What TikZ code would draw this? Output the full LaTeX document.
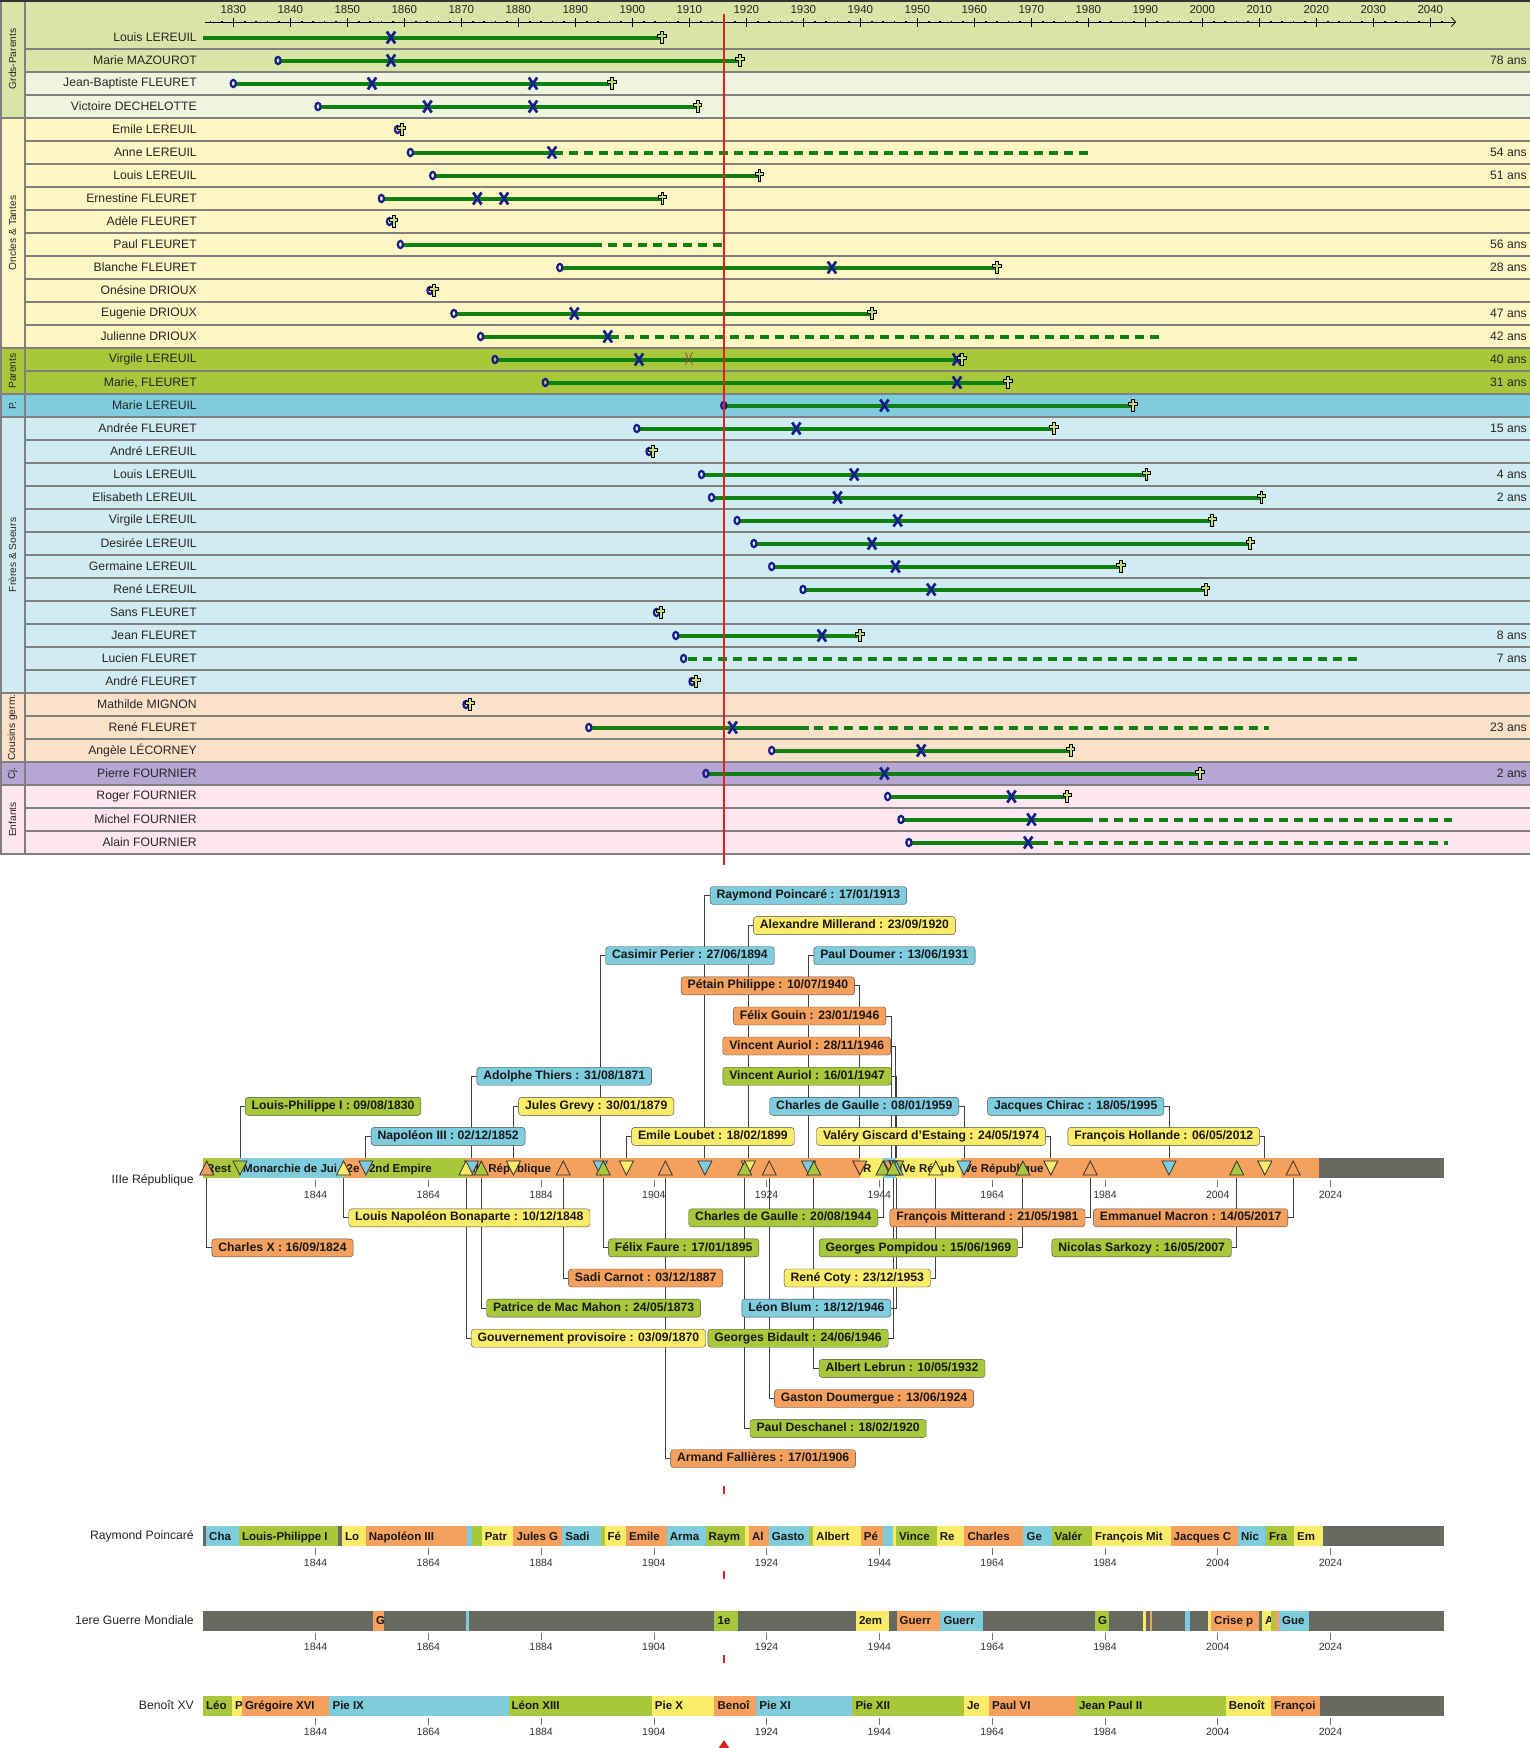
\documentclass[tikz,border=0pt]{standalone}
\usepackage{fontspec}
\setmainfont{Liberation Sans}
\usetikzlibrary{arrows.meta}
\definecolor{cb}{RGB}{126,204,222}
\definecolor{cg}{RGB}{168,199,58}
\definecolor{cy}{RGB}{250,235,105}
\definecolor{co}{RGB}{246,160,94}
\definecolor{cgr}{RGB}{103,106,96}
\definecolor{gpA}{RGB}{216,229,166}
\definecolor{gpB}{RGB}{239,244,223}
\definecolor{onc}{RGB}{255,246,196}
\definecolor{par}{RGB}{168,199,58}
\definecolor{ppc}{RGB}{126,204,222}
\definecolor{fsc}{RGB}{208,236,242}
\definecolor{cou}{RGB}{252,225,201}
\definecolor{cjc}{RGB}{182,166,211}
\definecolor{enf}{RGB}{255,230,240}
\definecolor{sepc}{RGB}{128,128,128}
\definecolor{lifeg}{RGB}{16,128,16}
\definecolor{navy}{RGB}{20,30,140}
\definecolor{redl}{RGB}{222,32,32}
\definecolor{crossc}{RGB}{200,220,120}
\definecolor{divc}{RGB}{160,70,70}
\pgfdeclarelayer{back}
\pgfdeclarelayer{lines}
\pgfsetlayers{back,lines,main}
\newcommand\mylife[3]{\draw[life] (#2,{37.5+23*#1}) -- (#3,{37.5+23*#1});}
\newcommand\mydash[3]{\draw[lifed] (#2,{37.5+23*#1}) -- (#3,{37.5+23*#1});}
\newcommand\myborn[2]{\draw[navy,line width=2.2pt] (#2,{37.5+23*#1}) ellipse [x radius=2.6, y radius=3.6];}
\newcommand\myx[2]{\draw[navy,line width=2.7pt] (#2,{37.5+23*#1}) ++(-4.2,-6) -- ++(8.4,12) (#2,{37.5+23*#1}) ++(4.2,-6) -- ++(-8.4,12);}
\newcommand\mycross[2]{\filldraw[fill=crossc,draw=black,line width=0.7pt] (#2,{37.5+23*#1}) ++(-1.4,-6) -- ++(2.8,0) -- ++(0,2.8) -- ++(2.8,0) -- ++(0,2.6) -- ++(-2.8,0) -- ++(0,6) -- ++(-2.8,0) -- ++(0,-6) -- ++(-2.8,0) -- ++(0,-2.6) -- ++(2.8,0) -- cycle;}
\newcommand\mybar[2]{%
  \fill[cgr] (203,#1) rectangle (1444,#1+20);
  \foreach \xa/\xb/\col/\txt in {#2} {
    \fill[\col] (\xa,#1) rectangle (\xb,#1+20);
    \begin{scope}
      \clip (\xa,#1) rectangle (\xb,#1+20);
      \node[seglab] at (\xa+3,#1+14.2) {\txt};
    \end{scope}
  }
  \foreach \Y in {1844,1864,...,2024} {
    \draw[tkc] ({315.6+5.638*(\Y-1844)},#1+22) -- ++(0,7);
    \node[tkl] at ({315.6+5.638*(\Y-1844)},#1+36.5) {\Y};
  }
}
\begin{document}
\begin{tikzpicture}[x=1pt,y=-1pt,
  nm/.style={anchor=east, font=\fontsize{12.2}{14}\selectfont, text=black!85, inner sep=0pt},
  grp/.style={rotate=90, font=\fontsize{10.2}{12}\selectfont, text=black!85, inner sep=0pt},
  ansl/.style={anchor=east, font=\fontsize{12.2}{14}\selectfont, text=black!85, inner sep=0pt},
  yr/.style={font=\fontsize{11.5}{13}\selectfont, text=black!85, inner sep=0pt},
  sepl/.style={draw=sepc, line width=1.8pt},
  life/.style={draw=lifeg, line width=4pt},
  lifed/.style={draw=lifeg, line width=4pt, dash pattern=on 9pt off 6pt},
  conn/.style={draw=black!75, line width=0.9pt},
  tri/.style={draw=black!80, line width=0.8pt, line join=miter},
  pbox/.style={draw=black!70, rounded corners=3pt, minimum height=18pt, inner xsep=6.5pt, inner ysep=0pt, text height=8.8pt, text depth=2.6pt, font=\bfseries\fontsize{12.2}{14}\selectfont, text=black!90},
  seglab/.style={anchor=base west, font=\bfseries\fontsize{11.5}{13}\selectfont, text=black!90, inner sep=0pt},
  tkc/.style={draw=black!55, line width=0.7pt},
  tkl/.style={font=\fontsize{10.5}{12}\selectfont, text=black!80, inner sep=0pt},
  lbl/.style={anchor=east, font=\fontsize{12.2}{14}\selectfont, text=black!85, inner sep=0pt}]
\useasboundingbox (0,0) rectangle (1530,1748);
\begin{pgfonlayer}{back}
\fill[white] (0,0) rectangle (1530,1748);
\end{pgfonlayer}
% ---------- family chart backgrounds
\fill[gpA] (0,0) rectangle (1530,72);
\fill[gpB] (25,72) rectangle (1530,118);
\fill[gpA] (0,72) rectangle (25,118);
\fill[onc] (0,118) rectangle (1530,348);
\fill[par] (0,348) rectangle (1530,394);
\fill[ppc] (0,394) rectangle (1530,417);
\fill[fsc] (0,417) rectangle (1530,693);
\fill[cou] (0,693) rectangle (1530,762);
\fill[cjc] (0,762) rectangle (1530,785);
\fill[enf] (0,785) rectangle (1530,854);
\foreach \j in {0,...,35} \draw[sepl] (25,{49+23*\j}) -- (1530,{49+23*\j});
\foreach \gy in {118,348,394,417,693,762,785,854} \draw[sepl] (0,\gy) -- (25,\gy);
\draw[sepl] (25,0) -- (25,854);
\draw[sepl] (0.9,0) -- (0.9,854);
\draw[black!80,line width=1.5pt] (0,0.75) -- (1530,0.75);
% group labels
\node[grp] (gA) at (12.5,59) {Grds-Parents};
\node[grp] (gB) at (12.5,233) {Oncles \& Tantes};
\node[grp] (gC) at (12.5,371) {Parents};
\node[grp] (gD) at (12.5,405.5) {P.};
\node[grp] (gE) at (12.5,555) {Frères \& Soeurs};
\node[grp] (gF) at (12.5,727.5) {Cousins germ.};
\node[grp] (gG) at (12.5,773.5) {Cj.};
\node[grp] (gH) at (12.5,819.5) {Enfants};
% names
\foreach \k/\nom in {0/Louis LEREUIL,1/Marie MAZOUROT,2/Jean-Baptiste FLEURET,3/Victoire DECHELOTTE,
  4/Emile LEREUIL,5/Anne LEREUIL,6/Louis LEREUIL,7/Ernestine FLEURET,8/Adèle FLEURET,9/Paul FLEURET,
  10/Blanche FLEURET,11/Onésine DRIOUX,12/Eugenie DRIOUX,13/Julienne DRIOUX,14/Virgile LEREUIL,
  15/{Marie, FLEURET},16/Marie LEREUIL,17/Andrée FLEURET,18/André LEREUIL,19/Louis LEREUIL,
  20/Elisabeth LEREUIL,21/Virgile LEREUIL,22/Desirée LEREUIL,23/Germaine LEREUIL,24/René LEREUIL,
  25/Sans FLEURET,26/Jean FLEURET,27/Lucien FLEURET,28/André FLEURET,29/Mathilde MIGNON,
  30/René FLEURET,31/Angèle LÉCORNEY,32/Pierre FOURNIER,33/Roger FOURNIER,34/Michel FOURNIER,
  35/Alain FOURNIER}
  \node[nm] (nm\k) at (197,{37.5+23*\k}) {\nom};
\foreach \k/\v in {1/78,5/54,6/51,9/56,10/28,12/47,13/42,14/40,15/31,17/15,19/4,20/2,26/8,27/7,30/23,32/2}
  \node[ansl] (ans\k) at (1527,{37.5+23*\k}) {\v{} ans};
% axis
\draw[black,line width=0.8pt,-{Straight Barb[length=4pt,width=9pt]}] (205,22) -- (1456,22);
\foreach \Y in {1826,1828,...,2042} \draw[line width=1.6pt] ({233.3+5.7*(\Y-1830)},20.6) -- ++(0,2.8);
\foreach \Y in {1830,1840,...,2040} {
  \draw[line width=1.3pt] ({233.3+5.7*(\Y-1830)},17.5) -- ++(0,9);
  \node[yr] (yr\Y) at ({233.3+5.7*(\Y-1830)},9.5) {\Y};
}
% life lines
\mylife{0}{203.4}{662} \myx{0}{391} \mycross{0}{662}
\mylife{1}{280}{740} \myx{1}{391} \myborn{1}{278} \mycross{1}{740}
\mylife{2}{235.5}{612} \myx{2}{372} \myx{2}{533} \myborn{2}{233.3} \mycross{2}{612}
\mylife{3}{320}{697.6} \myx{3}{427.5} \myx{3}{533} \myborn{3}{318} \mycross{3}{697.6}
\myborn{4}{397.5} \mycross{4}{401.5}
\mylife{5}{412.5}{563} \mydash{5}{569}{1093} \myx{5}{552} \myborn{5}{410.4}
\mylife{6}{435}{759.4} \myborn{6}{432.7} \mycross{6}{759.4}
\mylife{7}{383.5}{662.4} \myx{7}{477.3} \myx{7}{504} \myborn{7}{381.4} \mycross{7}{662.4}
\myborn{8}{389.5} \mycross{8}{393.5}
\mylife{9}{402.5}{602} \mydash{9}{608}{726} \myborn{9}{400.4}
\mylife{10}{562}{997} \myx{10}{831.9} \myborn{10}{559.8} \mycross{10}{997}
\myborn{11}{430} \mycross{11}{434}
\mylife{12}{456}{872} \myx{12}{574.3} \myborn{12}{453.9} \mycross{12}{872}
\mylife{13}{482.7}{619} \mydash{13}{625}{1160} \myx{13}{607.8} \myborn{13}{480.6}
\mylife{14}{497}{961.7} \myx{14}{639} \myx{14}{957} \myborn{14}{495} \mycross{14}{961.7}
\node[text=divc,font=\fontsize{13}{13}\selectfont,inner sep=0pt] (divorce) at (689,{37.5+23*14}) {)(};
\mylife{15}{547.5}{1008} \myx{15}{957} \myborn{15}{545.3} \mycross{15}{1008}
\mylife{16}{726}{1133} \myx{16}{884.4} \myborn{16}{723.8} \mycross{16}{1133}
\mylife{17}{639}{1053.9} \myx{17}{796.3} \myborn{17}{636.8} \mycross{17}{1053.9}
\myborn{18}{649} \mycross{18}{653}
\mylife{19}{703.6}{1146.4} \myx{19}{854.2} \myborn{19}{701.5} \mycross{19}{1146.4}
\mylife{20}{713.6}{1261.3} \myx{20}{837.5} \myborn{20}{711.5} \mycross{20}{1261.3}
\mylife{21}{739.2}{1212.2} \myx{21}{897.7} \myborn{21}{737.1} \mycross{21}{1212.2}
\mylife{22}{756}{1250.1} \myx{22}{872} \myborn{22}{753.9} \mycross{22}{1250.1}
\mylife{23}{773.8}{1120.8} \myx{23}{895.5} \myborn{23}{771.7} \mycross{23}{1120.8}
\mylife{24}{805}{1205.5} \myx{24}{931.2} \myborn{24}{803} \mycross{24}{1205.5}
\myborn{25}{656.5} \mycross{25}{660.5}
\mylife{26}{678}{859.8} \myx{26}{821.9} \myborn{26}{675.8} \mycross{26}{859.8}
\mydash{27}{688}{1362.8} \myborn{27}{683.6}
\myborn{28}{692} \mycross{28}{696}
\myborn{29}{466} \mycross{29}{470}
\mylife{30}{591}{808.5} \mydash{30}{814}{1269} \myx{30}{732.7} \myborn{30}{588.8}
\mylife{31}{773.8}{1070.6} \myx{31}{921.2} \myborn{31}{771.7} \mycross{31}{1070.6}
\mylife{32}{708}{1200} \myx{32}{884.4} \myborn{32}{705.9} \mycross{32}{1200}
\mylife{33}{889.8}{1067.2} \myx{33}{1011.5} \myborn{33}{887.7} \mycross{33}{1067.2}
\mylife{34}{903}{1092.9} \mydash{34}{1099}{1452} \myx{34}{1031.5} \myborn{34}{901}
\mylife{35}{911}{1048.3} \mydash{35}{1054}{1447.5} \myx{35}{1028.2} \myborn{35}{908.9}
% red current line
\draw[redl,line width=2pt] (724,14) -- (724,865);
% ---------- main regime bar
\node[lbl] (lIII) at (194,1180) {IIIe République};
\mybar{1158}{203/240/cg/Rest,240/343.5/cb/Monarchie de Jui,343.5/365.9/co/2e,365.9/466/cg/2nd Empire,
  466/859.8/co/IIIe République,859.8/883/cy/R,883/896/cb/{},896/961/cy/IVe Répub,961/1319/co/Ve République}
% boxes above, connector on the left
\foreach \lx/\ly/\col/\txt [count=\i] in {
  704.9/895.5/cb/{Raymond Poincaré : 17/01/1913},
  748.2/925.6/cy/{Alexandre Millerand : 23/09/1920},
  600.3/955.7/cb/{Casimir Perier : 27/06/1894},
  808.6/955.7/cb/{Paul Doumer : 13/06/1931},
  471.6/1076.2/cb/{Adolphe Thiers : 31/08/1871},
  240/1106.3/cg/{Louis-Philippe I : 09/08/1830},
  513.4/1106.3/cy/{Jules Grevy : 30/01/1879},
  365.9/1136.4/cb/{Napoléon III : 02/12/1852},
  626.4/1136.4/cy/{Emile Loubet : 18/02/1899}} {
  \coordinate (ta\i) at (\lx,1168);
  \filldraw[tri,fill=\col] (ta\i) ++(-7,-7) -- ++(14,0) -- ++(-7,14) -- cycle;
  \node[pbox,fill=\col,anchor=west] (ba\i) at (\lx+5,\ly) {\txt};
  \begin{pgfonlayer}{lines}\draw[conn] (ta\i) |- (ba\i.west);\end{pgfonlayer}
}
% boxes above, connector on the right
\foreach \lx/\ly/\col/\txt [count=\i] in {
  859.8/985.8/co/{Pétain Philippe : 10/07/1940},
  891/1016/co/{Félix Gouin : 23/01/1946},
  895.8/1046/co/{Vincent Auriol : 28/11/1946},
  896.5/1076.2/cg/{Vincent Auriol : 16/01/1947},
  964/1106.3/cb/{Charles de Gaulle : 08/01/1959},
  1169/1106.3/cb/{Jacques Chirac : 18/05/1995},
  1050.8/1136.4/cy/{Valéry Giscard d'Estaing : 24/05/1974},
  1264.8/1136.4/cy/{François Hollande : 06/05/2012}} {
  \coordinate (tb\i) at (\lx,1168);
  \filldraw[tri,fill=\col] (tb\i) ++(-7,-7) -- ++(14,0) -- ++(-7,14) -- cycle;
  \node[pbox,fill=\col,anchor=east] (bb\i) at (\lx-5,\ly) {\txt};
  \begin{pgfonlayer}{lines}\draw[conn] (tb\i) |- (bb\i.east);\end{pgfonlayer}
}
% boxes below, connector on the left
\foreach \lx/\ly/\col/\txt [count=\i] in {
  343.5/1217.8/cy/{Louis Napoléon Bonaparte : 10/12/1848},
  206.7/1247.9/co/{Charles X : 16/09/1824},
  603.2/1247.9/cg/{Félix Faure : 17/01/1895},
  563.2/1278/co/{Sadi Carnot : 03/12/1887},
  481.3/1308.1/cg/{Patrice de Mac Mahon : 24/05/1873},
  466/1338.2/cy/{Gouvernement provisoire : 03/09/1870},
  813.8/1368.4/cg/{Albert Lebrun : 10/05/1932},
  769.2/1398.5/co/{Gaston Doumergue : 13/06/1924},
  744.8/1428.6/cg/{Paul Deschanel : 18/02/1920},
  665.4/1458.7/co/{Armand Fallières : 17/01/1906}} {
  \coordinate (tc\i) at (\lx,1168);
  \filldraw[tri,fill=\col] (tc\i) ++(-7,7) -- ++(14,0) -- ++(-7,-14) -- cycle;
  \node[pbox,fill=\col,anchor=west] (bc\i) at (\lx+5,\ly) {\txt};
  \begin{pgfonlayer}{lines}\draw[conn] (tc\i) |- (bc\i.west);\end{pgfonlayer}
}
% boxes below, connector on the right
\foreach \lx/\ly/\col/\txt [count=\i] in {
  883/1217.8/cg/{Charles de Gaulle : 20/08/1944},
  1090.2/1217.8/co/{François Mitterand : 21/05/1981},
  1293.1/1217.8/co/{Emmanuel Macron : 14/05/2017},
  1022.9/1247.9/cg/{Georges Pompidou : 15/06/1969},
  1236.7/1247.9/cg/{Nicolas Sarkozy : 16/05/2007},
  935.7/1278/cy/{René Coty : 23/12/1953},
  896.1/1308.1/cb/{Léon Blum : 18/12/1946},
  893.4/1338.2/cg/{Georges Bidault : 24/06/1946}} {
  \coordinate (td\i) at (\lx,1168);
  \filldraw[tri,fill=\col] (td\i) ++(-7,7) -- ++(14,0) -- ++(-7,-14) -- cycle;
  \node[pbox,fill=\col,anchor=east] (bd\i) at (\lx-5,\ly) {\txt};
  \begin{pgfonlayer}{lines}\draw[conn] (td\i) |- (bd\i.east);\end{pgfonlayer}
}
% ---------- lower timelines
\node[lbl] (lRP) at (194,1536) {Raymond Poincaré};
\mybar{1526}{206/238.8/cb/Cha,238.8/338.3/cg/Louis-Philippe I,342/365.7/cy/Lo,365.7/466.7/co/Napoléon III,
  466.7/471.6/cb/{},471.6/481.6/cg/{},481.6/513.4/cy/Patr,513.4/562.2/co/Jules G,562.2/601/cb/Sadi,
  601/604.5/cg/{},604.5/625.9/cy/Fé,625.9/666.7/co/Emile,666.7/705.5/cb/Arma,705.5/745/cg/Raym,
  745/748.8/cy/{},748.8/768.7/co/Al,768.7/809/cb/Gasto,809/813/cg/{},813/860.7/cy/Albert,860.7/883/co/Pé,
  883/893/cb/{},893/896/cy/{},896/936.6/cg/Vince,936.6/964.3/cy/Re,964.3/1023.4/co/Charles,
  1023.4/1051.5/cb/Ge,1051.5/1091.8/cg/Valér,1091.8/1170.5/cy/François Mit,1170.5/1237.9/co/Jacques C,
  1237.9/1266/cb/Nic,1266/1294/cg/Fra,1294/1322.6/cy/Em}
\node[lbl] (lGM) at (194,1620.5) {1ere Guerre Mondiale};
\mybar{1610.5}{373/384/co/G,466/469/cb/{},714.4/738.3/cg/1e,855.8/888.7/cy/2em,896.5/940.3/co/Guerr,
  940.3/982.5/cb/Guerr,1095/1108.7/cg/G,1143/1145.6/cy/{},1149.5/1152.4/co/{},1185.3/1190.3/cb/{},
  1208/1211/cy/{},1211/1258.5/co/Crise p,1262/1270.8/cy/A,1270.8/1274.7/cg/{},1274.7/1279/co/{},
  1279/1308.6/cb/Gue}
\node[lbl] (lBX) at (194,1705.5) {Benoît XV};
\mybar{1695.5}{203/231.8/cg/Léo,231.8/241.8/cy/P,241.8/329.4/co/Grégoire XVI,329.4/508.5/cb/Pie IX,
  508.5/651.7/cg/Léon XIII,651.7/714.4/cy/Pie X,714.4/756.2/co/Benoî,756.2/852.3/cb/Pie XI,
  852.3/963.8/cg/Pie XII,963.8/988.9/cy/Je,988.9/1075.8/co/Paul VI,1075.8/1225.6/cg/Jean Paul II,
  1225.6/1270.8/cy/Benoît,1270.8/1320/co/Françoi}
% red markers
\draw[redl,line width=2pt] (724,1486) -- (724,1494);
\draw[redl,line width=2pt] (724,1571) -- (724,1579);
\draw[redl,line width=2pt] (724,1655) -- (724,1663);
\fill[redl] (724,1740) -- (730,1749) -- (718,1749) -- cycle;
\end{tikzpicture}
\end{document}
